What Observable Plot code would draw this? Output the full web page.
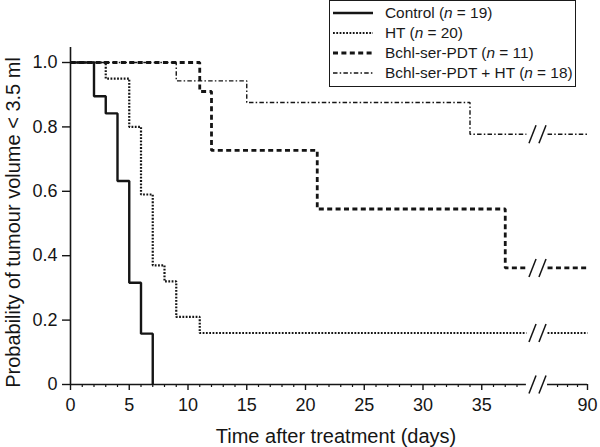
<!DOCTYPE html>
<html><head><meta charset="utf-8">
<script src="https://cdn.jsdelivr.net/npm/d3@7"></script>
<script src="https://cdn.jsdelivr.net/npm/@observablehq/plot@0.6"></script>
<style>
html,body{margin:0;padding:0;background:#fff;}
#wrap{position:relative;width:600px;height:447px;font-family:"Liberation Sans",Arial,Helvetica,sans-serif;color:#1a1a1a;}
#legend{position:absolute;left:329px;top:0px;width:245px;height:85px;border:1.5px solid #1a1a1a;background:#fff;}
.row{position:absolute;left:0;height:20px;display:flex;align-items:center;font-size:15.4px;white-space:nowrap;}
.row svg{margin-left:3px;margin-right:12px;}
</style></head><body><div id="wrap"><div id="legend"></div></div>
<script>
// ---- data ----
const seriesNames = ["Control", "HT", "Bchl-ser-PDT", "Bchl-ser-PDT + HT"];
const seriesN = [19, 20, 11, 18];
const controlDays = [0, 2, 3, 4, 5, 6, 7];
const controlProb = [1, 0.895, 0.842, 0.632, 0.316, 0.158, 0];
const htDays = [0, 3, 5, 6, 7, 8, 9, 11, 90];
const htProb = [1, 0.95, 0.80, 0.59, 0.37, 0.32, 0.21, 0.16, 0.16];
const pdtDays = [0, 11, 12, 21, 37, 90];
const pdtProb = [1, 0.91, 0.727, 0.545, 0.362, 0.362];
const pdtHtDays = [0, 9, 15, 34, 90];
const pdtHtProb = [1, 0.943, 0.876, 0.777, 0.777];
const xTickDays = [0, 5, 10, 15, 20, 25, 30, 35, 90];
const xTickLabels = ["0", "5", "10", "15", "20", "25", "30", "35", "90"];
const xMinorDays = [1,2,3,4,6,7,8,9,11,12,13,14,16,17,18,19,21,22,23,24,26,27,28,29,31,32,33,34,36,37,38,60,70,80];
const yTicks = [0, 0.2, 0.4, 0.6, 0.8, 1.0];
const yTickLabels = ["0", "0.2", "0.4", "0.6", "0.8", "1.0"];
const xTitle = "Time after treatment (days)";
const yTitle = "Probability of tumour volume < 3.5 ml";

// ---- styles / broken axis ----
const ink = "#151515";
const styles = [
  {w: 2.4, dash: null},
  {w: 2.2, dash: "1.8,1.5"},
  {w: 2.8, dash: "5,3.4"},
  {w: 1.4, dash: "4.5,2.2,1.5,2.2"}
];
const preEnd = 38.8, postStart = 50, endDay = 90;
const fx = t => t <= 40 ? t : 44 - (endDay - t) * 0.085;
const breakCenters = [39.32, 40.17];
const slashHalfW = 0.3, slashHalfH = 0.028;

const allDays = [controlDays, htDays, pdtDays, pdtHtDays];
const allProb = [controlProb, htProb, pdtProb, pdtHtProb];

const marks = [];
const breakLevels = [0];
// draw order: dash-dot, dotted, dashed, solid
[3, 1, 2, 0].forEach(k => {
  const days = allDays[k], prob = allProb[k];
  const pts = days.map((t, i) => ({t, p: prob[i]}));
  const extends_ = days[days.length - 1] >= endDay;
  const pre = pts.filter(d => d.t <= preEnd);
  const st = styles[k];
  const opts = () => ({x: q => fx(q.t), y: "p", curve: "step-after", stroke: ink,
    strokeWidth: st.w, strokeDasharray: st.dash, strokeLinecap: "butt", strokeLinejoin: "miter"});
  if (extends_) {
    const last = prob[prob.length - 1];
    pre.push({t: preEnd, p: last});
    marks.push(Plot.line(pre, opts()));
    marks.push(Plot.line([{t: postStart, p: last}, {t: endDay, p: last}], opts()));
    breakLevels.push(last);
  } else {
    marks.push(Plot.line(pre, opts()));
  }
});

const slashes = [];
breakLevels.forEach(y => breakCenters.forEach(c => slashes.push({c, y})));

const chart = Plot.plot({
  width: 600, height: 447,
  marginLeft: 70, marginRight: 13, marginTop: 47, marginBottom: 63,
  style: {fontFamily: '"Liberation Sans", Arial, Helvetica, sans-serif', color: ink, background: "transparent"},
  x: {domain: [0, 44]},
  y: {domain: [0, 1.0466]},
  marks: [
    // axis lines
    Plot.ruleX([0], {y1: 0, y2: 1.0466, stroke: ink, strokeWidth: 1.6}),
    Plot.ruleY([[0, preEnd], [postStart, endDay]], {y: 0, x1: d => fx(d[0]), x2: d => fx(d[1]), stroke: ink, strokeWidth: 1.6}),
    Plot.axisY({ticks: yTicks, tickSize: 8, tickPadding: 5, fontSize: 18, label: null,
      tickFormat: d => yTickLabels[yTicks.indexOf(d)], stroke: ink, strokeWidth: 1.4}),
    Plot.axisX({ticks: xTickDays.map(fx), tickSize: 6, tickPadding: 8, fontSize: 18, label: null,
      tickFormat: d => xTickLabels[xTickDays.map(fx).indexOf(d)], stroke: ink, strokeWidth: 1.4}),
    Plot.axisX({ticks: xMinorDays.map(fx), tickSize: 3, tickFormat: () => "", label: null, stroke: ink, strokeWidth: 1.2}),
    ...marks,
    Plot.link(slashes, {x1: d => d.c - slashHalfW, y1: d => d.y - slashHalfH,
      x2: d => d.c + slashHalfW, y2: d => d.y + slashHalfH, stroke: ink, strokeWidth: 1.5}),
    Plot.text([xTitle], {frameAnchor: "bottom", textAnchor: "middle", lineAnchor: "middle", text: d => d, fontSize: 20, dy: 51.6, dx: 7, fill: ink}),
    Plot.text([yTitle], {frameAnchor: "left", textAnchor: "middle", lineAnchor: "middle", text: d => d, fontSize: 20, rotate: -90, dx: -57, dy: 6.5, fill: ink})
  ]
});
chart.style.position = "absolute";
chart.style.left = "0px";
chart.style.top = "0px";
const wrap = document.getElementById("wrap");
wrap.insertBefore(chart, wrap.firstChild);

// ---- legend ----
const legend = document.getElementById("legend");
seriesNames.forEach((name, k) => {
  const row = document.createElement("div");
  row.className = "row";
  row.style.top = (2 + k * 20) + "px";
  const st = styles[k];
  row.innerHTML = `<svg width="40" height="20"><line x1="0" x2="40" y1="10" y2="10" stroke="${ink}" stroke-width="${st.w}" ${st.dash ? `stroke-dasharray="${st.dash}"` : ""}/></svg><span>${name} (<i>n</i> = ${seriesN[k]})</span>`;
  legend.appendChild(row);
});
</script></body></html>
